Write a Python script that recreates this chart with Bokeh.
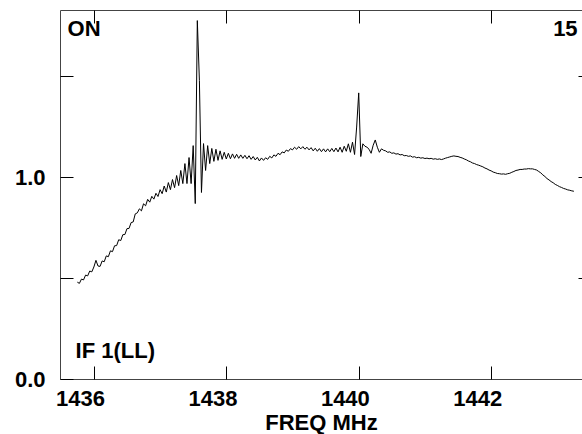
import numpy as np
from bokeh.plotting import figure
from bokeh.models import (LinearAxis, FixedTicker, Range1d, Label, Title)
from bokeh.embed import file_html
from bokeh.resources import INLINE

# ---- data -------------------------------------------------------------
freq_start = 1435.74      # MHz, first channel
chan_width = 0.03125      # MHz per channel

amplitude = [
    0.482, 0.476, 0.497, 0.493, 0.517, 0.513, 0.537, 0.533, 0.557, 0.590,
    0.562, 0.560, 0.587, 0.583, 0.612, 0.608, 0.637, 0.633, 0.662, 0.663,
    0.692, 0.688, 0.717, 0.718, 0.747, 0.748, 0.777, 0.780, 0.820, 0.825,
    0.845, 0.835, 0.870, 0.860, 0.892, 0.878, 0.907, 0.893, 0.922, 0.906,
    0.940, 0.920, 0.958, 0.928, 0.975, 0.940, 0.990, 0.950, 1.010, 0.960,
    1.035, 0.970, 1.069, 0.970, 1.099, 0.970, 1.158, 0.871, 1.777, 1.480,
    0.926, 1.168, 1.035, 1.158, 1.069, 1.144, 1.080, 1.140, 1.085, 1.132,
    1.090, 1.125, 1.092, 1.120, 1.093, 1.117, 1.095, 1.115, 1.095, 1.112,
    1.095, 1.110, 1.093, 1.108, 1.090, 1.104, 1.087, 1.100, 1.082, 1.097,
    1.085, 1.098, 1.090, 1.105, 1.097, 1.112, 1.105, 1.120, 1.113, 1.127,
    1.122, 1.136, 1.130, 1.143, 1.137, 1.150, 1.140, 1.153, 1.142, 1.153,
    1.140, 1.150, 1.137, 1.148, 1.132, 1.145, 1.130, 1.143, 1.128, 1.142,
    1.127, 1.142, 1.128, 1.144, 1.128, 1.146, 1.127, 1.150, 1.125, 1.155,
    1.130, 1.167, 1.125, 1.175, 1.114, 1.250, 1.419, 1.104, 1.167, 1.155,
    1.150, 1.140, 1.120, 1.160, 1.186, 1.150, 1.125, 1.142, 1.135, 1.132,
    1.125, 1.127, 1.120, 1.122, 1.116, 1.118, 1.112, 1.114, 1.108, 1.109,
    1.105, 1.107, 1.101, 1.103, 1.098, 1.100, 1.096, 1.098, 1.094, 1.096,
    1.093, 1.095, 1.091, 1.093, 1.090, 1.092, 1.089, 1.092, 1.096, 1.099,
    1.102, 1.105, 1.107, 1.105, 1.104, 1.100, 1.097, 1.092, 1.088, 1.082,
    1.078, 1.072, 1.069, 1.064, 1.061, 1.057, 1.053, 1.047, 1.043, 1.037,
    1.033, 1.027, 1.024, 1.020, 1.019, 1.017, 1.018, 1.016, 1.019, 1.021,
    1.026, 1.030, 1.035, 1.037, 1.040, 1.040, 1.042, 1.042, 1.044, 1.043,
    1.043, 1.040, 1.037, 1.030, 1.023, 1.013, 1.005, 0.995, 0.988, 0.980,
    0.974, 0.966, 0.961, 0.955, 0.951, 0.946, 0.943, 0.939, 0.937, 0.934,
    0.932,
]
freq = freq_start + chan_width * np.arange(len(amplitude))

x_ticks = [1436, 1438, 1440, 1442]
x_tick_labels = {1436: "1436", 1438: "1438", 1440: "1440", 1442: "1442"}
y_ticks = [0.0, 0.5, 1.0, 1.5]
y_tick_labels = {0.0: "0.0", 0.5: "", 1.0: "1.0", 1.5: ""}

FONT = "Liberation Sans"
FS = "22px"
AXC = "#444444"

X0, X1 = 1435.486, 1443.37
LAB_SHIFT = 0.2115        # tick labels sit ~14 px left of their ticks

# ---- figure -----------------------------------------------------------
p = figure(width=582, height=434,
           x_range=Range1d(X0, X1), y_range=Range1d(0, 1.827),
           output_backend="svg", toolbar_location=None,
           min_border_left=60, min_border_right=0,
           min_border_top=10, min_border_bottom=55)
p.extra_x_ranges = {"xlab": Range1d(X0 + LAB_SHIFT, X1 + LAB_SHIFT)}
p.grid.visible = False
p.outline_line_color = None
p.background_fill_color = "white"
p.border_fill_color = "white"


def style(ax, tick_in, line=True):
    ax.axis_line_color = AXC if line else None
    ax.axis_line_width = 1
    ax.major_tick_in = tick_in
    ax.major_tick_out = 0
    ax.major_tick_line_color = "black" if tick_in else None
    ax.major_tick_line_width = 1
    ax.minor_tick_line_color = None
    ax.major_label_text_font = FONT
    ax.major_label_text_font_style = "bold"
    ax.major_label_text_font_size = FS
    ax.major_label_text_color = "black"
    ax.axis_label_standoff = 0


# bottom axis: ticks only
xb = p.xaxis[0]
xb.ticker = FixedTicker(ticks=x_ticks)
xb.major_label_overrides = {t: "" for t in x_ticks}
xb.major_label_standoff = 0
style(xb, 13)

# bottom labels on a shifted range
xl = LinearAxis(x_range_name="xlab", ticker=FixedTicker(ticks=x_ticks),
                major_label_overrides=x_tick_labels, major_label_standoff=11)
style(xl, 0, line=False)
p.add_layout(xl, "below")

p.add_layout(Title(text="FREQ MHz", align="center", offset=20,
                   vertical_align="bottom", standoff=-1,
                   text_font=FONT, text_font_style="bold",
                   text_font_size=FS, text_color="black"), "below")

# left axis
yl = p.yaxis[0]
yl.ticker = FixedTicker(ticks=y_ticks)
yl.major_label_overrides = y_tick_labels
yl.major_label_standoff = 15
style(yl, 13)

# top axis (ticks only)
xt = LinearAxis(ticker=FixedTicker(ticks=x_ticks),
                major_label_overrides={t: "" for t in x_ticks},
                major_label_standoff=0)
style(xt, 13)
p.add_layout(xt, "above")

# right axis (ticks only)
yr = LinearAxis(ticker=FixedTicker(ticks=y_ticks[1:]),
                major_label_overrides={t: "" for t in y_ticks[1:]},
                major_label_standoff=0)
style(yr, 4)
p.add_layout(yr, "right")

# spectrum
p.line(freq, amplitude, line_color="black", line_width=1)

for txt, x, y, al in [("ON", 1435.592, 1.738, "left"),
                      ("15", 1443.296, 1.738, "right"),
                      ("IF 1(LL)", 1435.713, 0.144, "left")]:
    p.add_layout(Label(x=x, y=y, text=txt, text_align=al,
                       text_baseline="alphabetic", text_font=FONT,
                       text_font_style="bold", text_font_size=FS,
                       text_color="black"))

open("out.html", "w").write(file_html(p, INLINE))
